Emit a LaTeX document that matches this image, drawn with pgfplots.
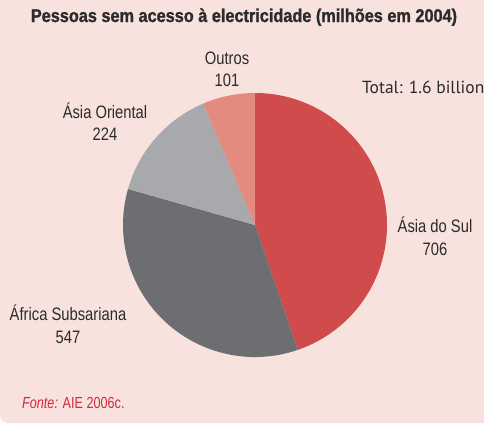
\documentclass[border=0pt]{standalone}
\usepackage{fontspec}
\setmainfont{Liberation Sans}
\newfontfamily\myriad{PT Sans}
\newfontfamily\heavy[BoldFeatures={FakeBold=1.3}]{Liberation Sans}
\usepackage{graphicx}
\usepackage{pgfplots}
\usepackage{pgfplotstable}
\pgfplotsset{compat=1.18}
\definecolor{bgpink}{HTML}{F8E2DD}
\definecolor{sulred}{HTML}{D04B4B}
\definecolor{afrgrey}{HTML}{6D6E71}
\definecolor{origrey}{HTML}{A8A9AD}
\definecolor{outsalmon}{HTML}{E28B7E}
\definecolor{txt}{HTML}{2B2B2B}
\definecolor{fonte}{HTML}{D2283F}
\newcommand\cx[1]{\scalebox{0.82}[1]{#1}}

% people without electricity, millions, 2004
\pgfplotstableread{
region value
AsiaSul 706
Africa 547
AsiaOr 224
Outros 101
}\pietable
\pgfplotstablegetelem{0}{value}\of\pietable\let\vA\pgfplotsretval
\pgfplotstablegetelem{1}{value}\of\pietable\let\vB\pgfplotsretval
\pgfplotstablegetelem{2}{value}\of\pietable\let\vC\pgfplotsretval
\pgfplotstablegetelem{3}{value}\of\pietable\let\vD\pgfplotsretval
\pgfmathsetmacro\tot{\vA+\vB+\vC+\vD}
\pgfmathsetmacro\aA{90-360*(\vA/\tot)}
\pgfmathsetmacro\aB{\aA-360*(\vB/\tot)}
\pgfmathsetmacro\aC{\aB-360*(\vC/\tot)}
\pgfmathsetmacro\aD{\aC-360*(\vD/\tot)}

\begin{document}
\begin{tikzpicture}
\begin{axis}[
  scale only axis,
  width=484pt, height=423pt,
  xmin=0, xmax=484, ymin=0, ymax=423,
  y dir=reverse,
  hide axis,
  clip=false,
]
\coordinate (SW) at (axis cs:0,423);
\coordinate (NE) at (axis cs:484,0);
% background panel
\fill[bgpink] (axis cs:0,0) -- (axis cs:484,0) -- (axis cs:484,423)
  [rounded corners=8pt] -- (axis cs:0,423) [sharp corners] -- cycle;

% pie wedges, clockwise from the top
\def\R{132pt}
\fill[sulred] (axis cs:255,225) -- ++(90:\R) arc[start angle=90, end angle=\aA, radius=\R] -- cycle;
\fill[afrgrey] (axis cs:255,225) -- ++(\aA:\R) arc[start angle=\aA, end angle=\aB, radius=\R] -- cycle;
\fill[origrey] (axis cs:255,225) -- ++(\aB:\R) arc[start angle=\aB, end angle=\aC, radius=\R] -- cycle;
\fill[outsalmon] (axis cs:255,225) -- ++(\aC:\R) arc[start angle=\aC, end angle=\aD, radius=\R] -- cycle;

% title
\node[anchor=base, inner sep=0pt, text=txt, font=\heavy\bfseries\fontsize{18.5}{20}\selectfont]
  at (axis cs:244,22) {\scalebox{0.88}[1]{Pessoas sem acesso à electricidade (milhões em 2004)}};

% labels
\tikzset{lbl/.style={anchor=base, text=txt, inner sep=0pt, font=\fontsize{18}{20}\selectfont}}
\node[lbl] at (axis cs:227,64) {\cx{Outros}};
\node[lbl] at (axis cs:227,86) {\cx{101}};
\node[lbl] at (axis cs:435,232) {\cx{Ásia do Sul}};
\node[lbl] at (axis cs:435,255) {\cx{706}};
\node[lbl] at (axis cs:68,320) {\cx{África Subsariana}};
\node[lbl] at (axis cs:68,343) {\cx{547}};
\node[lbl] at (axis cs:105,118) {\cx{Ásia Oriental}};
\node[lbl] at (axis cs:105,140) {\cx{224}};

\node[anchor=base west, inner sep=0pt, text=txt, font=\myriad\fontsize{17.5}{20}\selectfont]
  at (axis cs:362,93) {Total: 1.6 billion};

\node[anchor=base west, inner sep=0pt, text=fonte, font=\fontsize{16}{18}\selectfont]
  at (axis cs:22,408) {\scalebox{0.79}[1]{\itshape Fonte:\upshape{} AIE 2006c.}};
\end{axis}
\pgfresetboundingbox
\path[use as bounding box] (SW) rectangle (NE);
\end{tikzpicture}
\end{document}
